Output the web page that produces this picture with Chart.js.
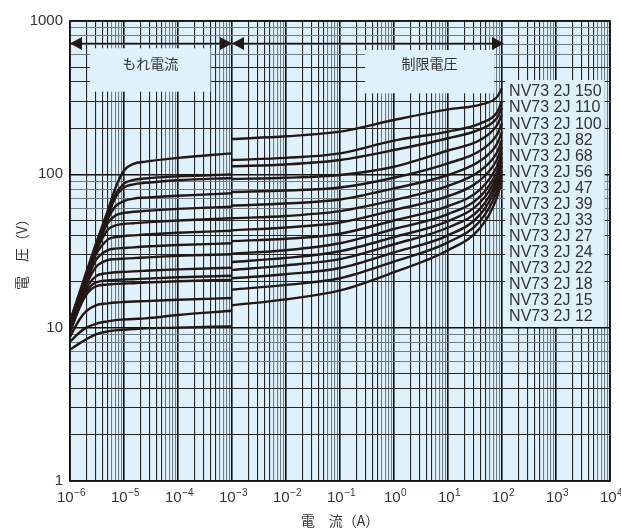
<!DOCTYPE html>
<html lang="ja">
<head>
<meta charset="UTF-8">
<title>NV73 2J 電圧-電流特性</title>
<script src="https://cdn.jsdelivr.net/npm/chart.js@4.4.1/dist/chart.umd.min.js"></script>
<style>
  html, body { margin: 0; padding: 0; background: #fff; }
  #wrap { width: 621px; height: 532px; }
</style>
</head>
<body>
<div id="wrap"><canvas id="chart" width="621" height="532"></canvas></div>
<script>
// current points (A) for the two regions
const leakCurrent  = [1e-6, 1.5e-6, 2e-6, 3e-6, 5e-6, 7e-6, 1e-5, 1.5e-5, 2.5e-5, 1e-4, 1e-3];
const limitCurrent = [1e-3, 1e-2, 1e-1, 1, 10, 40, 80, 100];

// voltage (V), leakage region then limiting region
const leak150 = [11, 17, 23, 35, 58, 82, 106, 117, 121, 128, 137];
const limit150 = [170, 177, 190, 226, 265, 285, 318, 365];
const leak110 = [11, 16.5, 22, 33, 54, 74, 87, 92, 94, 97, 100];
const limit110 = [124, 128, 137, 166, 190, 215, 252, 300];
const leak100 = [10.9, 16.3, 21.8, 32.6, 53, 71, 82, 86, 88, 91.5, 94.7];
const limit100 = [113, 116, 124, 144, 172, 197, 232, 272];
const leak82 = [10.8, 16.2, 21.6, 32.4, 51, 62, 67, 69.5, 70.5, 72.5, 75.2];
const limit82 = [93.3, 95, 99, 112, 143, 168, 208, 245];
const leak68 = [10.7, 16, 21.3, 31.8, 48, 54, 56, 57, 57.8, 59.5, 61.5];
const limit68 = [76.7, 78.5, 82, 95, 118, 143, 180, 215];
const leak56 = [10.6, 15.8, 21, 31, 43.5, 46.5, 47.5, 48, 48.6, 50, 51.7];
const limit56 = [62.6, 64.5, 68.5, 81, 99, 123, 157, 190];
const leak47 = [10.5, 15.5, 20.8, 29.8, 37.5, 39, 39.6, 40, 40.5, 41.6, 42.9];
const limit47 = [51.7, 53.5, 57.5, 68, 84, 106, 138, 168];
const leak39 = [10.2, 15.2, 19.8, 27.5, 32, 32.8, 33.1, 33.4, 33.8, 34.6, 35.5];
const limit39 = [43.2, 45, 48.5, 58.5, 72, 92, 124, 152];
const leak33 = [9.9, 14.6, 19, 24.8, 27.6, 28, 28.2, 28.4, 28.7, 29.4, 30.1];
const limit33 = [36.7, 38, 41, 50, 62, 80, 112, 139];
const leak27 = [9.7, 14.3, 18, 21.6, 22.7, 23, 23.1, 23.3, 23.5, 24, 24.6];
const limit27 = [30.4, 32, 35.5, 44, 55, 72, 103, 129];
const leak24 = [9.5, 13.9, 17.2, 19.7, 20.3, 20.5, 20.6, 20.7, 20.9, 21.3, 21.8];
const limit24 = [26.8, 28.5, 31.5, 39, 49.5, 66, 96, 121];
const leak22 = [9.3, 13.5, 16.4, 18.6, 19.1, 19.3, 19.4, 19.5, 19.7, 20.1, 20.5];
const limit22 = [23.8, 25.5, 28, 35, 45, 60, 90, 114];
const leak18 = [8.7, 11.3, 12.8, 14, 14.4, 14.6, 14.7, 14.8, 14.9, 15.2, 15.6];
const limit18 = [21, 22.3, 24.5, 31, 40, 55, 84, 107];
const leak15 = [8.1, 9.3, 10, 10.6, 11, 11.2, 11.3, 11.4, 11.5, 12.1, 12.9];
const limit15 = [17.7, 19, 21, 27, 36, 50, 77, 100];
const leak12 = [7.2, 7.9, 8.4, 9.05, 9.45, 9.6, 9.7, 9.8, 9.9, 10, 10.2];
const limit12 = [14, 15.3, 17.5, 23, 32, 45, 70, 92];

const seriesNames = ['NV73 2J 150', 'NV73 2J 110', 'NV73 2J 100', 'NV73 2J 82', 'NV73 2J 68',
  'NV73 2J 56', 'NV73 2J 47', 'NV73 2J 39', 'NV73 2J 33', 'NV73 2J 27', 'NV73 2J 24',
  'NV73 2J 22', 'NV73 2J 18', 'NV73 2J 15', 'NV73 2J 12'];
const leakSeries = [leak150, leak110, leak100, leak82, leak68, leak56, leak47, leak39,
  leak33, leak27, leak24, leak22, leak18, leak15, leak12];
const limitSeries = [limit150, limit110, limit100, limit82, limit68, limit56, limit47, limit39,
  limit33, limit27, limit24, limit22, limit18, limit15, limit12];

// axis ticks
const xDecades = [-6, -5, -4, -3, -2, -1, 0, 1, 2, 3, 4];
const yTickLabels = ['1', '10', '100', '1000'];
const minorSteps = [1, 2, 3, 4, 5, 6, 7, 8, 9];
const regionLabels = ['もれ電流', '制限電圧'];

const BG = '#dff1fa';
const INK = '#231815';
const LATIN = '"Liberation Sans", Arial, sans-serif';

const datasets = [];
seriesNames.forEach((name, i) => {
  datasets.push({
    label: name,
    data: leakCurrent.map((x, j) => ({ x, y: leakSeries[i][j] }))
  });
  datasets.push({
    label: name,
    data: limitCurrent.map((x, j) => ({ x, y: limitSeries[i][j] }))
  });
});

function logTicks(lo, hi) {
  const out = [];
  for (let e = lo; e < hi; e++) {
    minorSteps.forEach(m => out.push({ value: Number((m * Math.pow(10, e)).toPrecision(6)) }));
  }
  out.push({ value: Math.pow(10, hi) });
  return out;
}

function mantissa(v) {
  return Math.round(v / Math.pow(10, Math.floor(Math.log10(v) + 1e-9)));
}
function gridColor(ctx) {
  const v = ctx.tick && ctx.tick.value;
  if (v === undefined) return '#222';
  const m = mantissa(v);
  if (m === 1) return '#111';
  return (m <= 5) ? '#262626' : '#6d7d86';
}
function gridWidth(ctx) {
  const v = ctx.tick && ctx.tick.value;
  if (v === undefined) return 1;
  return mantissa(v) === 1 ? 1.6 : 1.1;
}

const decor = {
  id: 'decor',
  beforeDraw(chart) {
    const a = chart.chartArea;
    const c = chart.ctx;
    c.save();
    c.fillStyle = BG;
    c.fillRect(a.left, a.top, a.right - a.left, a.bottom - a.top);
    c.restore();
  },
  beforeDatasetsDraw(chart) {
    const c = chart.ctx;
    const xs = chart.scales.x, ys = chart.scales.y;
    const X = v => xs.getPixelForValue(v), Y = v => ys.getPixelForValue(v);
    c.save();
    c.fillStyle = BG;
    // region label boxes
    c.fillRect(X(2.35e-6), Y(664), X(4.0e-4) - X(2.35e-6), Y(346) - Y(664));
    c.fillRect(X(0.29), Y(647), X(71) - X(0.29), Y(338) - Y(647));
    // series name box
    c.fillRect(X(114), Y(412), X(8000) - X(114), Y(10.1) - Y(412));
    // arrows
    const ay = Y(712);
    c.strokeStyle = INK;
    c.fillStyle = INK;
    c.lineWidth = 1.5;
    c.beginPath();
    c.moveTo(X(1e-6), ay); c.lineTo(X(100), ay);
    c.stroke();
    const head = (x, dir) => {
      c.beginPath();
      c.moveTo(x, ay);
      c.lineTo(x - dir * 12, ay - 6.5);
      c.lineTo(x - dir * 12, ay + 6.5);
      c.closePath();
      c.fill();
    };
    head(X(1e-6), -1);
    head(X(1e-3), 1);
    head(X(1e-3), -1);
    head(X(100) + 2, 1);
    c.font = '14px "Noto Sans CJK JP"';
    c.fillStyle = '#333';
    c.textAlign = 'center';
    c.textBaseline = 'middle';
    c.fillText(regionLabels[0], (X(2.35e-6) + X(4.0e-4)) / 2, Y(530));
    c.fillText(regionLabels[1], (X(0.29) + X(71)) / 2, Y(530));
    c.restore();
  },
  afterDraw(chart) {
    const c = chart.ctx;
    const a = chart.chartArea;
    const xs = chart.scales.x;
    c.save();
    // frame
    c.strokeStyle = '#111';
    c.lineWidth = 1.6;
    c.strokeRect(a.left, a.top, a.right - a.left, a.bottom - a.top);
    // series names
    c.fillStyle = '#333';
    c.font = '16px ' + LATIN;
    c.textAlign = 'left';
    c.textBaseline = 'middle';
    const bx = xs.getPixelForValue(114) + 4;
    seriesNames.forEach((n, i) => c.fillText(n, bx, a.top + 71 + i * 16.07));
    // x tick labels 10^n
    const ty = a.bottom + 17;
    xDecades.forEach(e => {
      const px = xs.getPixelForValue(Math.pow(10, e));
      const sup = e < 0 ? '\u2212' + (-e) : String(e);
      c.font = '15px ' + LATIN;
      const w1 = c.measureText('10').width;
      c.font = '10px ' + LATIN;
      const w2 = c.measureText(sup).width;
      const x0 = px - (w1 + w2) / 2 + 1;
      c.font = '15px ' + LATIN;
      c.textAlign = 'left';
      c.textBaseline = 'middle';
      c.fillStyle = '#333';
      c.fillText('10', x0, ty);
      c.font = '10px ' + LATIN;
      c.fillText(sup, x0 + w1 + 0.5, ty - 5);
    });
    // axis titles
    c.font = '14px "Noto Sans CJK JP"';
    c.textAlign = 'center';
    c.textBaseline = 'middle';
    c.fillText('電\u3000流（A）', (a.left + a.right) / 2, 521);
    c.translate(22, (a.top + a.bottom) / 2);
    c.rotate(-Math.PI / 2);
    c.fillText('電\u3000圧（V）', 0, 0);
    c.restore();
  }
};

new Chart(document.getElementById('chart'), {
  type: 'line',
  data: { datasets },
  plugins: [decor],
  options: {
    responsive: false,
    animation: false,
    devicePixelRatio: 1,
    layout: { padding: { top: 21, right: 11, left: 0, bottom: 0 } },
    plugins: { legend: { display: false }, tooltip: { enabled: false } },
    elements: {
      point: { radius: 0 },
      line: { borderColor: INK, borderWidth: 2.4, cubicInterpolationMode: 'monotone', fill: false }
    },
    scales: {
      x: {
        type: 'logarithmic', min: 1e-6, max: 1e4,
        afterBuildTicks: s => { s.ticks = logTicks(-6, 4); },
        afterFit: s => { s.height = 51; },
        grid: { color: gridColor, lineWidth: gridWidth, drawTicks: false },
        border: { display: false },
        ticks: { display: false, autoSkip: false }
      },
      y: {
        type: 'logarithmic', min: 1, max: 1000,
        afterBuildTicks: s => { s.ticks = logTicks(0, 3); },
        afterFit: s => { s.width = 70; },
        grid: { color: gridColor, lineWidth: gridWidth, drawTicks: false },
        border: { display: false },
        ticks: {
          autoSkip: false, padding: 7, color: '#333',
          font: { family: LATIN, size: 15 },
          callback: v => {
            const i = [1, 10, 100, 1000].indexOf(v);
            return i >= 0 ? yTickLabels[i] : '';
          }
        }
      }
    }
  }
});
</script>
</body>
</html>
